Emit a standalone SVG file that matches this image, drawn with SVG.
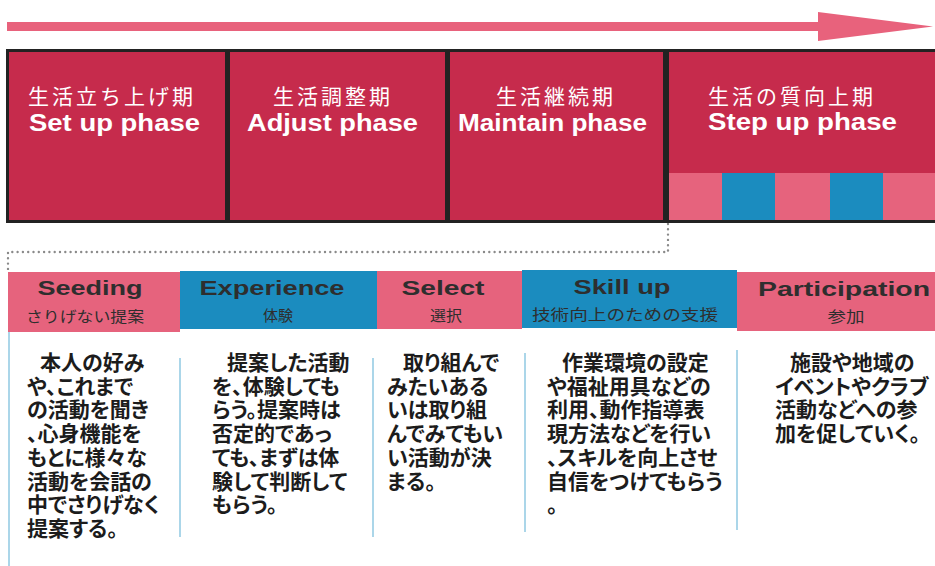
<svg xmlns="http://www.w3.org/2000/svg" width="935" height="566" viewBox="0 0 935 566">
<style>
.phase{fill:#c62b4c}
.pjp{font-family:"Noto Sans CJK JP",sans-serif;font-size:21px;fill:#fff;letter-spacing:3px}
.pen{font-family:"Liberation Sans",Arial,sans-serif;font-weight:bold;font-size:24px;fill:#fff}
.pink{fill:#e6637d}
.blue{fill:#1b8cbf}
.hen{font-family:"Liberation Sans",Arial,sans-serif;font-weight:bold;font-size:21px;fill:#2e2e2e;text-anchor:middle}
.hjp{font-family:"Noto Sans CJK JP",sans-serif;font-size:15px;fill:#2e2e2e;text-anchor:middle}
.body{font-family:"Noto Sans CJK JP",sans-serif;font-weight:bold;font-size:21px;fill:#1c1c1c;font-feature-settings:"palt"}
.sep{stroke:#8fc9e2;stroke-width:1.5}
</style>
<g id="connectors">
<polygon points="7,22 818,22 818,12 933,26.5 818,41 818,31 7,31" fill="#e8627c"/>
<path d="M668,224 V252 H8 V274" fill="none" stroke="#8a8a8a" stroke-width="2.4" stroke-linecap="round" stroke-dasharray="0 5.3"/>
</g>
<rect x="6" y="49" width="929" height="174" fill="#222"/>
<g id="phase-setup">
<rect class="phase" x="9" y="52" width="216" height="168"/>
<text class="pjp" x="28" y="104">生活立ち上げ期</text>
<text class="pen" x="29" y="131" textLength="171" lengthAdjust="spacingAndGlyphs">Set up phase</text>
</g>
<g id="phase-adjust">
<rect class="phase" x="230" y="52" width="215" height="168"/>
<text class="pjp" x="273" y="104">生活調整期</text>
<text class="pen" x="247" y="131" textLength="171" lengthAdjust="spacingAndGlyphs">Adjust phase</text>
</g>
<g id="phase-maintain">
<rect class="phase" x="450" y="52" width="213" height="168"/>
<text class="pjp" x="496" y="104">生活継続期</text>
<text class="pen" x="458" y="131" textLength="189" lengthAdjust="spacingAndGlyphs">Maintain phase</text>
</g>
<g id="phase-stepup">
<rect class="phase" x="669" y="52" width="266" height="168"/>
<text class="pjp" x="708" y="104">生活の質向上期</text>
<text class="pen" x="708" y="130" textLength="189" lengthAdjust="spacingAndGlyphs">Step up phase</text>
<rect class="pink" x="669" y="173" width="53" height="47"/>
<rect class="blue" x="722" y="173" width="53" height="47"/>
<rect class="pink" x="775" y="173" width="55" height="47"/>
<rect class="blue" x="830" y="173" width="53" height="47"/>
<rect class="pink" x="883" y="173" width="52" height="47"/>
</g>
<g id="seeding">
<rect class="pink" x="8" y="272" width="172" height="60"/>
<text class="hen" x="90" y="295" textLength="105" lengthAdjust="spacingAndGlyphs">Seeding</text>
<text class="hjp" x="85" y="322" textLength="118" lengthAdjust="spacingAndGlyphs">さりげない提案</text>
<line class="sep" x1="9" y1="332" x2="9" y2="566"/>
<text class="body" y="370"><tspan x="40">本人の好み</tspan><tspan x="27" dy="23.7">や、これまで</tspan><tspan x="27" dy="23.7">の活動を聞き</tspan><tspan x="27" dy="23.7">、心身機能を</tspan><tspan x="27" dy="23.7">もとに様々な</tspan><tspan x="27" dy="23.7">活動を会話の</tspan><tspan x="27" dy="23.7">中でさりげなく</tspan><tspan x="27" dy="23.7">提案する。</tspan></text>
</g>
<g id="experience">
<rect class="blue" x="180" y="271" width="197" height="58"/>
<text class="hen" x="272" y="295" textLength="145" lengthAdjust="spacingAndGlyphs">Experience</text>
<text class="hjp" x="278" y="321" textLength="30" lengthAdjust="spacingAndGlyphs">体験</text>
<line class="sep" x1="180" y1="358" x2="180" y2="537"/>
<text class="body" y="370"><tspan x="227">提案した活動</tspan><tspan x="212" dy="23.7">を、体験しても</tspan><tspan x="212" dy="23.7">らう。提案時は</tspan><tspan x="212" dy="23.7">否定的であっ</tspan><tspan x="212" dy="23.7">ても、まずは体</tspan><tspan x="212" dy="23.7">験して判断して</tspan><tspan x="212" dy="23.7">もらう。</tspan></text>
</g>
<g id="select">
<rect class="pink" x="377" y="271" width="145" height="58"/>
<text class="hen" x="443" y="295" textLength="83" lengthAdjust="spacingAndGlyphs">Select</text>
<text class="hjp" x="446" y="321" textLength="32" lengthAdjust="spacingAndGlyphs">選択</text>
<line class="sep" x1="373" y1="358" x2="373" y2="537"/>
<text class="body" y="370"><tspan x="403">取り組んで</tspan><tspan x="387" dy="23.7">みたいある</tspan><tspan x="387" dy="23.7">いは取り組</tspan><tspan x="387" dy="23.7">んでみてもい</tspan><tspan x="387" dy="23.7">い活動が決</tspan><tspan x="387" dy="23.7">まる。</tspan></text>
</g>
<g id="skillup">
<rect class="blue" x="522" y="270" width="215" height="58"/>
<text class="hen" x="622" y="294" textLength="97" lengthAdjust="spacingAndGlyphs">Skill up</text>
<text class="hjp" x="625" y="320" textLength="186" lengthAdjust="spacingAndGlyphs">技術向上のための支援</text>
<line class="sep" x1="525" y1="353" x2="525" y2="532"/>
<text class="body" y="370"><tspan x="562">作業環境の設定</tspan><tspan x="547" dy="23.7">や福祉用具などの</tspan><tspan x="547" dy="23.7">利用、動作指導表</tspan><tspan x="547" dy="23.7">現方法などを行い</tspan><tspan x="547" dy="23.7">、スキルを向上させ</tspan><tspan x="547" dy="23.7">自信をつけてもらう</tspan><tspan x="547" dy="23.7">。</tspan></text>
</g>
<g id="participation">
<rect class="pink" x="737" y="272" width="198" height="59"/>
<text class="hen" x="844" y="296" textLength="172" lengthAdjust="spacingAndGlyphs">Participation</text>
<text class="hjp" x="846" y="322" textLength="37" lengthAdjust="spacingAndGlyphs">参加</text>
<line class="sep" x1="737" y1="350" x2="737" y2="530"/>
<text class="body" y="370"><tspan x="790">施設や地域の</tspan><tspan x="775" dy="23.7">イベントやクラブ</tspan><tspan x="775" dy="23.7">活動などへの参</tspan><tspan x="775" dy="23.7">加を促していく。</tspan></text>
</g>
</svg>
